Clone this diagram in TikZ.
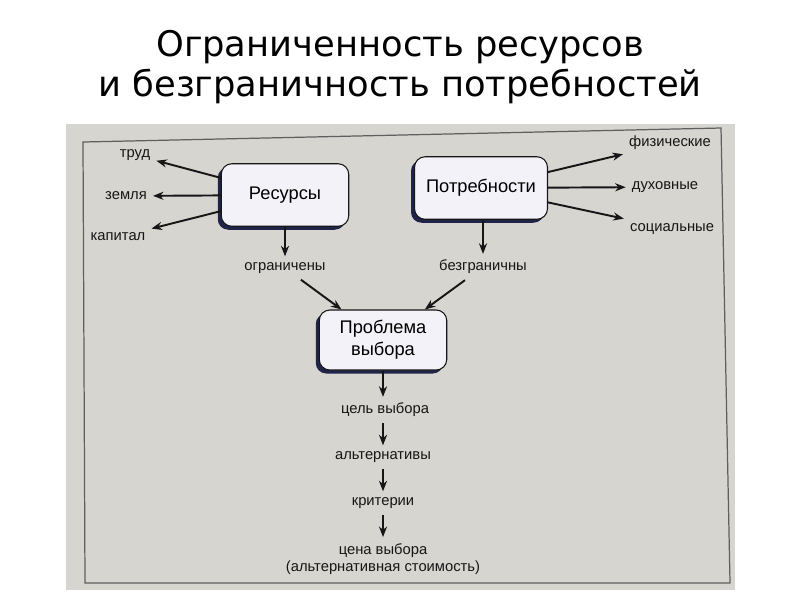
\documentclass[tikz,border=0pt]{standalone}
\usepackage{fontspec}
\setmainfont{Liberation Sans}
\newfontfamily\titlefont{DejaVu Sans}
\usetikzlibrary{shapes,arrows,arrows.meta,positioning,calc,shadows}
\definecolor{photogray}{RGB}{214,213,207}
\definecolor{framegray}{RGB}{95,95,95}
\definecolor{shadownavy}{RGB}{32,36,72}
\definecolor{boxfill}{RGB}{242,242,248}
\definecolor{inkgray}{RGB}{22,22,22}

\begin{document}
\begin{tikzpicture}[x=0.02cm, y=-0.02cm,
    block/.style={rectangle, rounded corners=6pt, draw=inkgray, fill=boxfill,
                  minimum width=2.55cm, minimum height=1.25cm,
                  align=center, font=\fontsize{10.4}{12.4}\selectfont, line width=0.6pt,
                  drop shadow={shadow xshift=-0.07cm, shadow yshift=-0.07cm,
                               fill=shadownavy, opacity=1}},
    item/.style={font=\fontsize{8.4}{10}\selectfont, text=inkgray, align=center},
    heading/.style={font=\titlefont\fontsize{20.1}{24}\selectfont, anchor=base},
    arrow/.style={->, >={Stealth[length=6pt,width=4.6pt]}, draw=inkgray, line width=1.1pt}
]
    \useasboundingbox (0,0) rectangle (800,600);
    \fill[white] (0,0) rectangle (800,600);

    \node[heading] (title1) at (400,56) {Ограниченность ресурсов};
    \node[heading] (title2) at (400,96) {и безграничность потребностей};

    \fill[photogray] (66,124) rectangle (735,590);
    \draw[framegray, line width=0.7pt] (83,142) -- (721,128) -- (730,583) -- (85,583) -- cycle;

    \node[block] (res) at (285,195) {Ресурсы};
    \node[block, minimum width=2.66cm] (need) at (481,188) {Потребности};
    \node[block, minimum height=1.2cm] (prob) at (383,340) {Проблема\\выбора};

    \node[item] (trud) at (135,155) {труд};
    \node[item] (land) at (126,196) {земля};
    \node[item] (capital) at (118,237) {капитал};

    \node[item] (phys) at (670,143) {физические};
    \node[item] (spirit) at (665,187) {духовные};
    \node[item] (social) at (672,229) {социальные};

    \node[item] (limited) at (285,268) {ограничены};
    \node[item] (unlimited) at (483,267) {безграничны};

    \node[item] (goal) at (385,410) {цель выбора};
    \node[item] (alt) at (383,457) {альтернативы};
    \node[item] (crit) at (383,503) {критерии};
    \node[item] (cost) at (383,559) {цена выбора\\(альтернативная стоимость)};

    \draw[arrow] (res) -- (trud);
    \draw[arrow] (res) -- (land);
    \draw[arrow] (res) -- (capital);
    \draw[arrow] (need) -- (phys);
    \draw[arrow] (need) -- (spirit);
    \draw[arrow] (need) -- (social);

    \draw[arrow] (res) -- (limited);
    \draw[arrow] (need.south -| unlimited) -- (unlimited);
    \draw[arrow] (limited) -- (prob);
    \draw[arrow] (unlimited) -- (prob);

    \draw[arrow] (prob.south -| crit) -- (goal.north -| crit);
    \draw[arrow] (goal.south -| crit) -- (alt);
    \draw[arrow] (alt) -- (crit);
    \draw[arrow] (crit) -- (cost);
\end{tikzpicture}
\end{document}
